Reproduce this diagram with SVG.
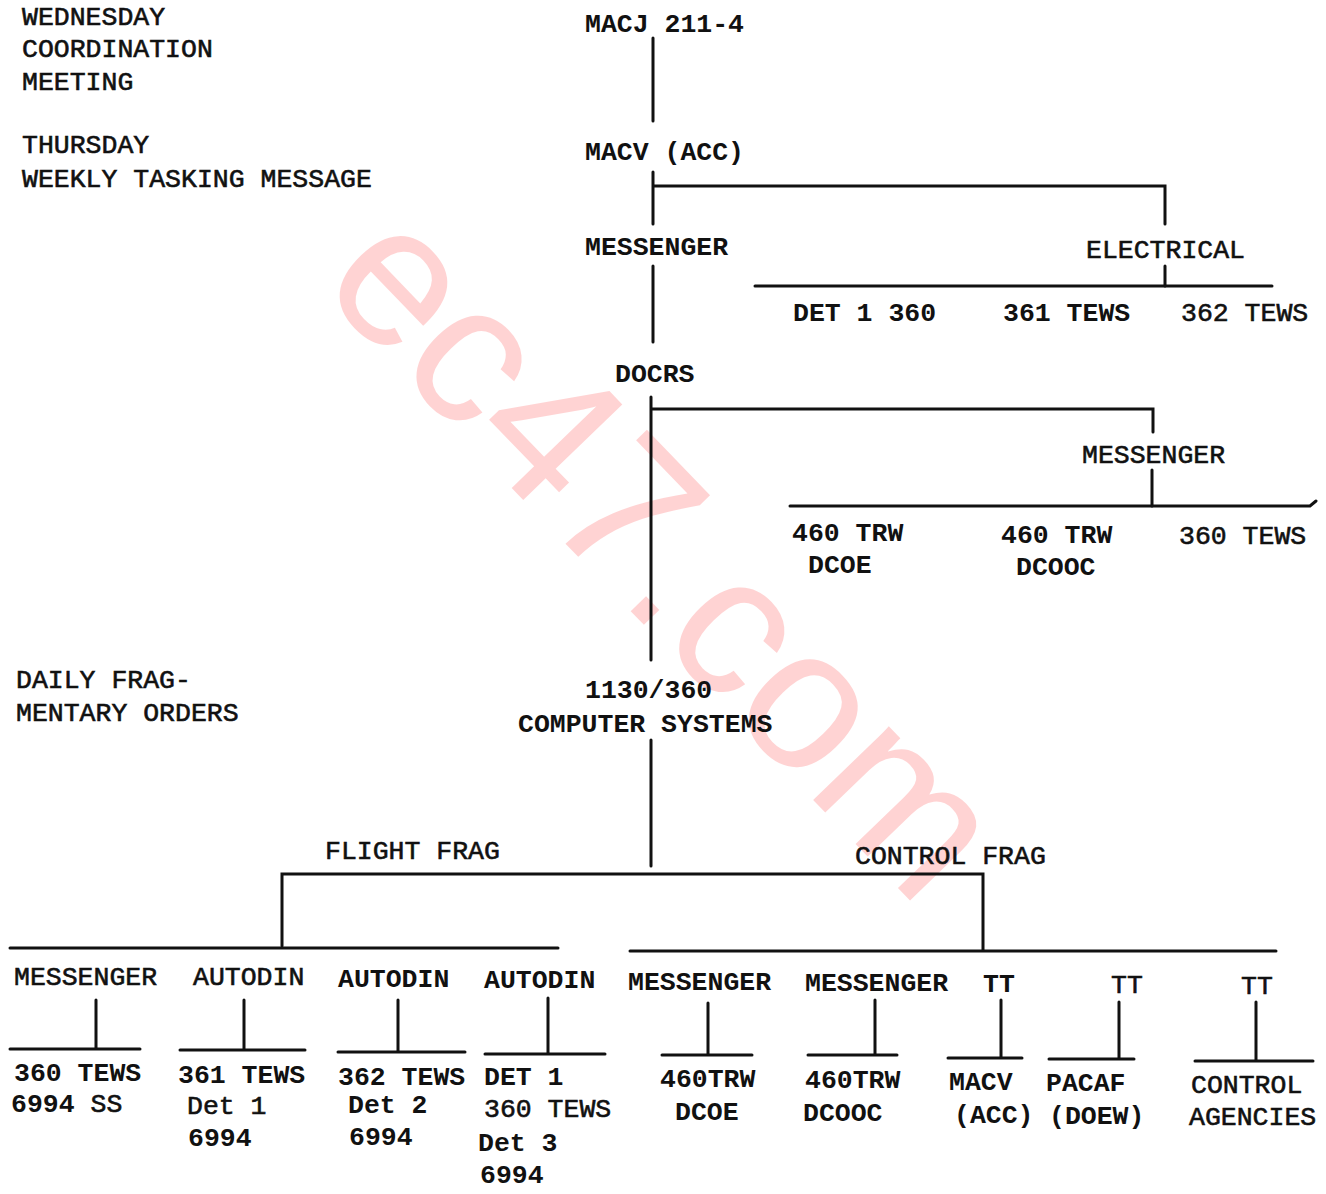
<svg xmlns="http://www.w3.org/2000/svg" width="1326" height="1194" viewBox="0 0 1326 1194">
<style>
text{font-family:"Liberation Mono","Courier New",monospace;font-size:26.5px;fill:#111;font-weight:bold}
.n{font-weight:normal;stroke:#111;stroke-width:0.6}
.c line,.c path{stroke:#111;stroke-width:3;fill:none;stroke-linecap:round}
.wm{font-family:"Liberation Sans",Arial,sans-serif;font-weight:normal;font-size:200px;fill:#ff0000;opacity:0.17;stroke:none}
</style>
<rect width="1326" height="1194" fill="#fff"/>
<text class="wm" transform="translate(618,598) rotate(46)" text-anchor="middle">ec47.com</text>
<g id="notes">
<text x="22" y="25" class="n">WEDNESDAY</text>
<text x="22" y="57" class="n">COORDINATION</text>
<text x="22" y="90" class="n">MEETING</text>
<text x="22" y="153" class="n">THURSDAY</text>
<text x="22" y="187" class="n">WEEKLY TASKING MESSAGE</text>
<text x="16" y="688" class="n">DAILY FRAG-</text>
<text x="16" y="721" class="n">MENTARY ORDERS</text>
</g>
<g class="c" id="connectors">
<line x1="653" y1="38" x2="653" y2="121"/>
<path d="M653 172V224M653 186H1165V224"/>
<line x1="653" y1="266" x2="653" y2="342"/>
<line x1="1165" y1="266" x2="1165" y2="286"/>
<line x1="755" y1="286" x2="1272" y2="286"/>
<path d="M651 397V660M651 409H1153V432"/>
<line x1="1152" y1="470" x2="1152" y2="506"/>
<path d="M790 506H1310L1316 501"/>
<line x1="651" y1="740" x2="651" y2="866"/>
<path d="M282 946V874H983V950"/>
<line x1="10" y1="948" x2="558" y2="948"/>
<line x1="630" y1="951" x2="1276" y2="951"/>
<path d="M96 1000V1049M10 1049H140"/>
<path d="M244 1000V1050M180 1050H305"/>
<path d="M398 1000V1052M338 1052H465"/>
<path d="M548 998V1054M485 1054H605"/>
<path d="M708 1003V1055M662 1055H752"/>
<path d="M875 1000V1055M808 1055H897"/>
<path d="M1001 1000V1058M948 1058H1022"/>
<path d="M1119 1002V1059M1049 1059H1134"/>
<path d="M1256 1002V1061M1195 1061H1313"/>
</g>
<g id="macj"><text x="585" y="32">MACJ 211-4</text></g>
<g id="macv"><text x="585" y="160">MACV  (ACC)</text></g>
<g id="messenger1"><text x="585" y="255">MESSENGER</text></g>
<g id="electrical"><text x="1086" y="258" class="n">ELECTRICAL</text></g>
<g id="det1-360"><text x="793" y="321">DET 1 360</text></g>
<g id="tews361"><text x="1003" y="321">361 TEWS</text></g>
<g id="tews362"><text x="1181" y="321" class="n">362 TEWS</text></g>
<g id="docrs"><text x="615" y="382">DOCRS</text></g>
<g id="messenger2"><text x="1082" y="463" class="n">MESSENGER</text></g>
<g id="trw460-dcoe"><text x="792" y="541">460 TRW</text><text x="808" y="573">DCOE</text></g>
<g id="trw460-dcooc"><text x="1001" y="543">460 TRW</text><text x="1016" y="575">DCOOC</text></g>
<g id="tews360"><text x="1179" y="544" class="n">360 TEWS</text></g>
<g id="computer"><text x="585" y="698">1130/360</text><text x="518" y="732">COMPUTER SYSTEMS</text></g>
<g id="flightfrag"><text x="325" y="859" class="n">FLIGHT FRAG</text></g>
<g id="controlfrag"><text x="855" y="864" class="n">CONTROL FRAG</text></g>
<g id="b1"><text x="14" y="985" class="n">MESSENGER</text><text x="14" y="1081">360 TEWS</text><text x="11" y="1112">6994 <tspan class="n">SS</tspan></text></g>
<g id="b2"><text x="193" y="985" class="n">AUTODIN</text><text x="178" y="1083">361 TEWS</text><text x="187" y="1114" class="n">Det 1</text><text x="188" y="1146">6994</text></g>
<g id="b3"><text x="338" y="987">AUTODIN</text><text x="338" y="1085">362 TEWS</text><text x="348" y="1113">Det 2</text><text x="349" y="1145">6994</text></g>
<g id="b4"><text x="484" y="988">AUTODIN</text><text x="484" y="1085">DET 1</text><text x="484" y="1117" class="n">360 TEWS</text><text x="478" y="1151">Det 3</text><text x="480" y="1183">6994</text></g>
<g id="b5"><text x="628" y="990">MESSENGER</text><text x="660" y="1087">460TRW</text><text x="675" y="1120">DCOE</text></g>
<g id="b6"><text x="805" y="991">MESSENGER</text><text x="805" y="1088">460TRW</text><text x="803" y="1121">DCOOC</text></g>
<g id="b7"><text x="983" y="992">TT</text><text x="949" y="1090">MACV</text><text x="954" y="1123">(ACC)</text></g>
<g id="b8"><text x="1111" y="993" class="n">TT</text><text x="1046" y="1091">PACAF</text><text x="1049" y="1124">(DOEW)</text></g>
<g id="b9"><text x="1241" y="994" class="n">TT</text><text x="1191" y="1093" class="n">CONTROL</text><text x="1189" y="1125" class="n">AGENCIES</text></g>
</svg>
